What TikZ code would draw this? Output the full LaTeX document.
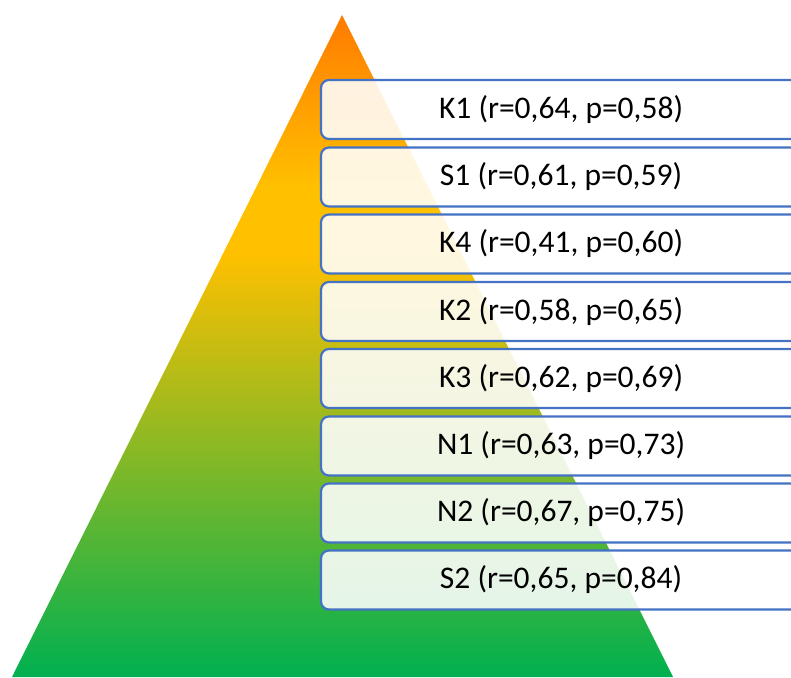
\documentclass[tikz,border=0pt]{standalone}
\usepackage{fontspec}
\setmainfont{Carlito}
\usepackage{xcolor}
\usepackage{tikz}
\usetikzlibrary{positioning}
\definecolor{pyrorange}{RGB}{255,122,0}
\definecolor{pyryellow}{RGB}{255,192,0}
\definecolor{pyrgreen}{RGB}{0,176,80}
\definecolor{boxblue}{RGB}{68,114,196}
\pgfdeclareverticalshading{pyrshade}{100bp}{%
  color(0bp)=(pyrgreen); color(25bp)=(pyrgreen); color(57bp)=(pyryellow);
  color(62bp)=(pyryellow); color(75bp)=(pyrorange); color(100bp)=(pyrorange)}
\tikzset{
  lvl/.style = {draw=boxblue, line width=2.2pt, rounded corners=8pt,
                fill=white, fill opacity=0.88, text opacity=1,
                minimum width=480pt, minimum height=59pt, inner sep=0pt,
                font=\fontsize{31.5}{38}\selectfont, text=black},
  pyr/.style = {shading=pyrshade},
}
\begin{document}
\begin{tikzpicture}[x=1pt, y=-1pt]
\useasboundingbox (0,0) rectangle (791,677);
\clip (0,0) rectangle (791,677);

\shade[pyr] (342,15) -- (673,677) -- (12,677) -- cycle;

\node[lvl] (k1) at (561,109.5) {K1 (r=0,64, p=0,58)};
\node[lvl] (s1) at (561,177) {S1 (r=0,61, p=0,59)};
\node[lvl] (k4) at (561,244) {K4 (r=0,41, p=0,60)};
\node[lvl] (k2) at (561,311.5) {K2 (r=0,58, p=0,65)};
\node[lvl] (k3) at (561,378.5) {K3 (r=0,62, p=0,69)};
\node[lvl] (n1) at (561,446) {N1 (r=0,63, p=0,73)};
\node[lvl] (n2) at (561,513) {N2 (r=0,67, p=0,75)};
\node[lvl] (s2) at (561,580) {S2 (r=0,65, p=0,84)};
\end{tikzpicture}
\end{document}
